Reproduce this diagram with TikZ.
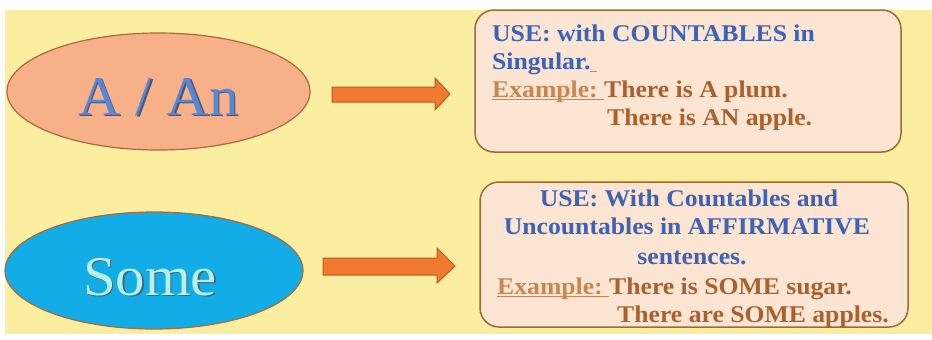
\documentclass[tikz,border=0pt]{standalone}
\usepackage{fontspec}
\setmainfont{Liberation Serif}
\newfontfamily\boxfont[FakeStretch=1.07]{Liberation Serif}
\newfontfamily\bigfont[FakeStretch=1.05]{Liberation Serif}
\usetikzlibrary{shapes.geometric}
\definecolor{bgyellow}{HTML}{FCEEA0}
\definecolor{salmon}{HTML}{F8B088}
\definecolor{ellborder}{HTML}{A86A3A}
\definecolor{skyblue}{HTML}{12ACE6}
\definecolor{arroworange}{HTML}{F07A30}
\definecolor{arrowborder}{HTML}{B85A20}
\definecolor{boxfill}{HTML}{FDE5D4}
\definecolor{boxborder}{HTML}{9C6C34}
\definecolor{usblue}{HTML}{3D62B6}
\definecolor{exbrown}{HTML}{A9612E}
\definecolor{exlabel}{HTML}{C68850}
\definecolor{anblue}{HTML}{5A86D4}
\definecolor{anshadow}{HTML}{4A5670}
\definecolor{somecyan}{HTML}{B8F0E6}
\definecolor{someshadow}{HTML}{3A6A88}
\newcommand\ulex[1]{\setbox0\hbox{#1}\rlap{\color{exlabel}\rule[-3pt]{\wd0}{1.1pt}}\box0}
\tikzset{
  bubble/.style={ellipse, draw=ellborder, line width=1.2pt, inner sep=0pt},
  infobox/.style={draw=boxborder, fill=boxfill, line width=1.5pt, rounded corners=19pt},
  blockarrow/.style={fill=arroworange, draw=arrowborder, line width=1pt, line join=miter},
  bigword/.style={font=\bigfont\fontsize{56}{60}\selectfont, inner sep=0pt, anchor=base},
  txt/.style={font=\boxfont\bfseries\fontsize{24}{28}\selectfont, inner sep=0pt, anchor=base west},
  txtc/.style={font=\boxfont\bfseries\fontsize{24}{28}\selectfont, inner sep=0pt, anchor=base},
}
\begin{document}
\begin{tikzpicture}[x=1pt, y=-1pt]
\useasboundingbox (0,0) rectangle (932,340);
\fill[white] (0,0) rectangle (932,340);
\fill[bgyellow] (5,10) rectangle (932,334);
% ellipses
\node[bubble, fill=salmon, minimum width=303pt, minimum height=117pt] (e1) at (158.5,91.5) {};
\node[bubble, fill=skyblue, minimum width=298pt, minimum height=117pt] (e2) at (154,270.5) {};
\node[bigword, text=anshadow] (t1s) at (160,116.5) {A / An};
\node[bigword, text=anblue] (t1) at (158.5,115) {A / An};
\node[bigword, text=someshadow] (t2s) at (151.5,296.5) {Some};
\node[bigword, text=somecyan] (t2) at (150,295) {Some};
% boxes
\draw[infobox] (475,10) rectangle (901,152);
\draw[infobox] (480,182) rectangle (908,327);
% arrows
\draw[blockarrow] (332,87) -- (435,87) -- (435,78) -- (450,94) -- (435,110) -- (435,102) -- (332,102) -- cycle;
\draw[blockarrow] (323,258) -- (437,258) -- (437,248) -- (455,266) -- (437,283) -- (437,275) -- (323,275) -- cycle;
% box 1 text
\node[txt, text=usblue] (l1) at (492,41) {USE: with COUNTABLES in};
\node[txt, text=usblue] (l2) at (492,69) {Singular.\ulex{\ }};
\node[txt, text=exbrown] (l3) at (492,97) {\ulex{\textcolor{exlabel}{Example:}\ }There is A plum.};
\node[txt, text=exbrown] (l4) at (607,125) {There is AN apple.};
% box 2 text
\node[txtc, text=usblue] (m1) at (689,206) {USE: With Countables and};
\node[txtc, text=usblue] (m2) at (687,234) {Uncountables in AFFIRMATIVE};
\node[txtc, text=usblue] (m3) at (692,264) {sentences.};
\node[txt, text=exbrown] (m4) at (497,294) {\ulex{\textcolor{exlabel}{Example:}\ }There is SOME sugar.};
\node[txt, text=exbrown] (m5) at (617,322) {There are SOME apples.};
\end{tikzpicture}
\end{document}
